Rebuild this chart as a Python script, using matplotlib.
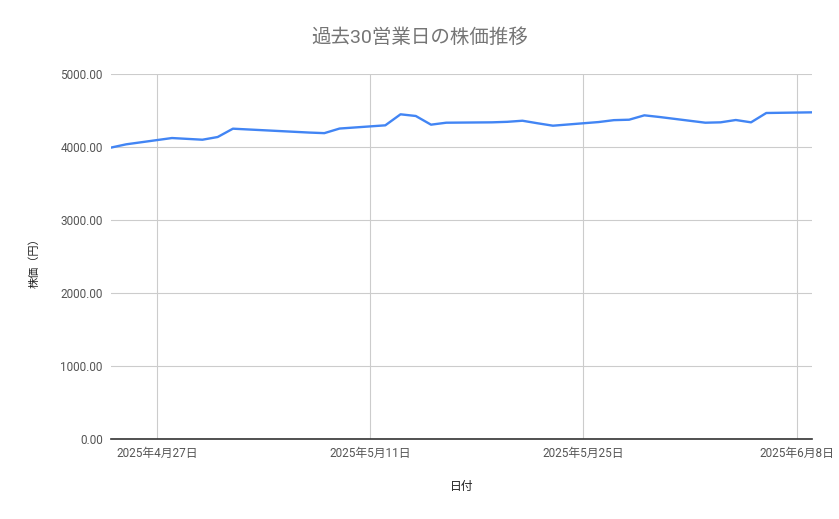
import matplotlib
matplotlib.use("Agg")
import matplotlib.pyplot as plt
import matplotlib.dates as mdates
from matplotlib.ticker import FixedLocator, FuncFormatter
import pandas as pd

plt.rcParams['font.family'] = ['Roboto', 'Noto Sans CJK JP', 'DejaVu Sans']

# data
dates = ['2025-04-24', '2025-04-25', '2025-04-28', '2025-04-30', '2025-05-01',
         '2025-05-02', '2025-05-07', '2025-05-08', '2025-05-09', '2025-05-12',
         '2025-05-13', '2025-05-14', '2025-05-15', '2025-05-16', '2025-05-19',
         '2025-05-20', '2025-05-21', '2025-05-22', '2025-05-23', '2025-05-26',
         '2025-05-27', '2025-05-28', '2025-05-29', '2025-05-30', '2025-06-02',
         '2025-06-03', '2025-06-04', '2025-06-05', '2025-06-06', '2025-06-09']
prices = [3992, 4037, 4123, 4100, 4137,
          4251, 4198, 4190, 4253, 4297,
          4448, 4425, 4306, 4333, 4338,
          4345, 4360, 4325, 4292, 4342,
          4368, 4374, 4434, 4411, 4333,
          4338, 4370, 4338, 4466, 4475]
tick_dates = ['2025-04-27', '2025-05-11', '2025-05-25', '2025-06-08']
y_ticks = [0, 1000, 2000, 3000, 4000, 5000]

x = pd.to_datetime(dates)
ticks = mdates.date2num(pd.to_datetime(tick_dates))

fig = plt.figure(figsize=(8.39, 5.19), dpi=100)
ax = fig.add_axes([0.1323, 0.1541, 0.8355, 0.7033])

ax.plot(x, prices, color='#4285F4', linewidth=1.7, zorder=3)

ax.set_xlim(pd.Timestamp('2025-04-24'), pd.Timestamp('2025-06-09'))
ax.set_ylim(0, 5000)

ax.xaxis.set_major_locator(FixedLocator(ticks))
ax.xaxis.set_major_formatter(FuncFormatter(
    lambda v, p: '{0}年{1}月{2}日'.format(*[int(s) for s in mdates.num2date(v).strftime('%Y %m %d').split()])))
ax.set_yticks(y_ticks)
ax.yaxis.set_major_formatter(FuncFormatter(lambda v, p: '%.2f' % v))

ax.grid(True, color='#cccccc', linewidth=0.8)
ax.set_axisbelow(True)
for s in ['top', 'right', 'left']:
    ax.spines[s].set_visible(False)
ax.spines['bottom'].set_color('#333333')
ax.spines['bottom'].set_linewidth(1.2)
ax.tick_params(length=0, labelsize=8.5, colors='#555555', pad=6)

# title is centred on the figure, not the plot area
fig.text(420 / 839, 1 - 38 / 519, '過去30営業日の株価推移', fontsize=14,
         color='#757575', ha='center', va='center')
ax.set_xlabel('日付', fontsize=8.5, color='#222222', labelpad=14)
ax.set_ylabel('株価（円）', fontsize=8, color='#222222')
ax.yaxis.set_label_coords(-0.102, 0.49)

fig.savefig('out.png', dpi=100)
